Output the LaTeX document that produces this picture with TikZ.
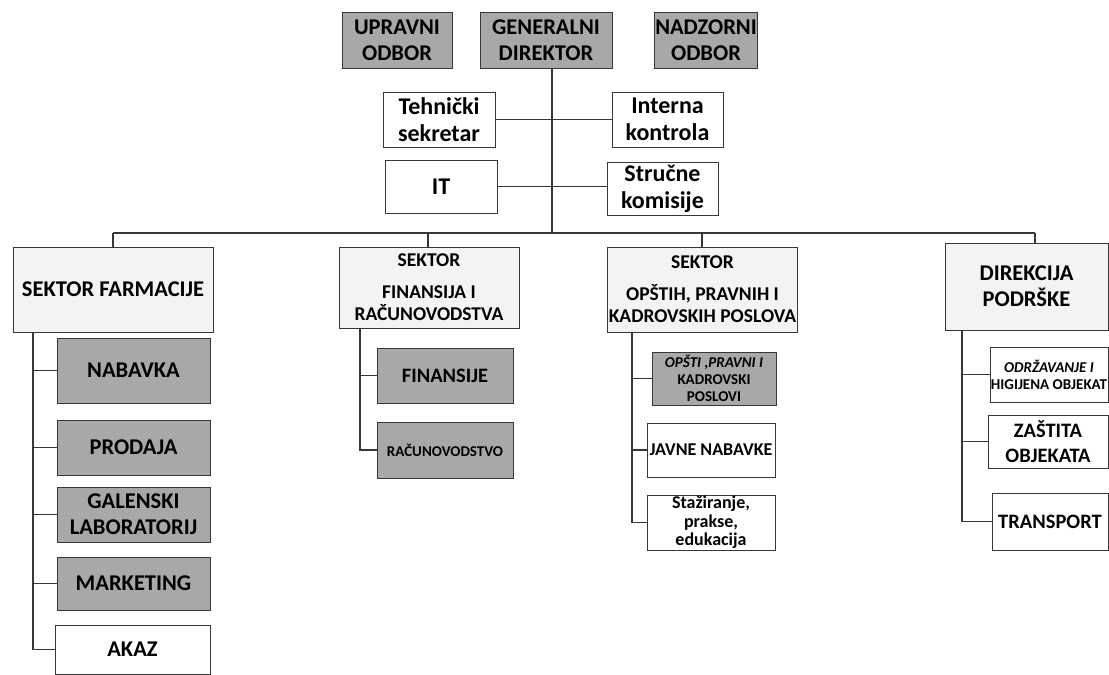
\documentclass[tikz,border=0pt]{standalone}
\usepackage{fontspec}
\setmainfont{Carlito}
\usepackage{tikz}

\definecolor{boxgray}{RGB}{168,168,168}
\definecolor{sectgray}{RGB}{243,243,243}
\definecolor{linegray}{RGB}{55,55,55}

\tikzset{
  box/.style={draw=linegray, line width=0.9pt, align=center, inner sep=1pt,
    font=\bfseries\fontsize{20.5}{25}\selectfont},
  dark/.style={box, fill=boxgray},
  light/.style={box, fill=sectgray},
  plain/.style={box, fill=white},
  conn/.style={draw=linegray, line width=1.4pt},
  large/.style={font=\bfseries\fontsize{22.5}{26}\selectfont},
  staff/.style={font=\bfseries\fontsize{24}{27}\selectfont},
  sect/.style={font=\bfseries\fontsize{19.5}{22}\selectfont},
  small/.style={font=\bfseries\fontsize{15}{17}\selectfont},
  medium/.style={font=\bfseries\fontsize{18}{18.5}\selectfont}
}

\begin{document}
\begin{tikzpicture}[x=1pt, y=-1pt]
        \useasboundingbox (0,0) rectangle (1109,675);

        \draw (397,40) node[dark, large, minimum width=110, minimum height=56] (upr) {UPRAVNI\\ODBOR};
        \draw (546,40) node[dark, large, minimum width=132, minimum height=56] (gd) {GENERALNI\\DIREKTOR};
        \draw (706,40) node[dark, large, minimum width=103, minimum height=56] (nad) {NADZORNI\\ODBOR};

        \draw (439,119.5) node[plain, staff, minimum width=112, minimum height=55] (teh) {Tehnički\\sekretar};
        \draw (667.5,119.5) node[plain, staff, minimum width=111, minimum height=55] (int) {Interna\\kontrola};
        \draw (441,186.5) node[plain, staff, minimum width=112, minimum height=53] (it) {IT};
        \draw (662.5,188.5) node[plain, staff, minimum width=111, minimum height=53] (str) {Stručne\\komisije};

        \coordinate (b1) at (113,233);
        \coordinate (b2) at (428,233);
        \coordinate (b3) at (702,233);
        \coordinate (b4) at (1035,233);

        \draw[conn] ([xshift=6pt]gd.south) -- ([xshift=6pt]gd.south |- b1);
        \draw[conn] (teh.east) -- (int.west);
        \draw[conn] (it.east) -- (it.east -| str.west);
        \draw[conn] (b1) -- (b4);

        \draw (113,289.5) node[light, large, minimum width=200, minimum height=85] (sf) {SEKTOR FARMACIJE};
        \draw (429,287.5) node[light, sect, minimum width=180, minimum height=81] (sfin) {SEKTOR\\[10pt]FINANSIJA I\\RAČUNOVODSTVA};
        \draw (702.5,289.5) node[light, sect, minimum width=177, minimum height=85] (sop) {SEKTOR\\[10pt]OPŠTIH, PRAVNIH I\\KADROVSKIH POSLOVA};
        \draw (1026.5,286.5) node[light, large, minimum width=163, minimum height=87] (dir) {DIREKCIJA\\PODRŠKE};

        \draw[conn] (b1) -- (sf.north);
        \draw[conn] (b2) -- (b2 |- sfin.north);
        \draw[conn] (b3) -- (b3 |- sop.north);
        \draw[conn] (b4) -- (b4 |- dir.north);

        \draw (133.5,370.5) node[dark, large, minimum width=153, minimum height=65] (nab) {NABAVKA};
        \draw (133.5,447.5) node[dark, large, minimum width=153, minimum height=55] (pro) {PRODAJA};
        \draw (133.5,514.5) node[dark, large, minimum width=153, minimum height=55] (gal) {GALENSKI\\LABORATORIJ};
        \draw (133.5,583.5) node[dark, large, minimum width=153, minimum height=53] (mar) {MARKETING};
        \draw (132.5,649.5) node[plain, large, minimum width=155, minimum height=49] (akaz) {AKAZ};

        \draw (445,375.5) node[dark, minimum width=136, minimum height=55] (fin) {FINANSIJE};
        \draw (445,450) node[dark, small, minimum width=136, minimum height=56] (rac) {RAČUNOVODSTVO};

        \draw (714,378.5) node[dark, small, minimum width=124, minimum height=53] (opp) {{\itshape OPŠTI ,PRAVNI I}\\KADROVSKI\\POSLOVI};
        \draw (711,450) node[plain, medium, minimum width=128, minimum height=54] (jav) {JAVNE NABAVKE};
        \draw (711,522.5) node[plain, medium, minimum width=128, minimum height=55] (sta) {Stažiranje,\\prakse,\\edukacija};

        \draw (1049,374.5) node[plain, small, minimum width=118, minimum height=55] (odr) {{\itshape ODRŽAVANJE I}\\HIGIJENA OBJEKAT};
        \draw (1048,441.5) node[plain, minimum width=120, minimum height=53] (zas) {ZAŠTITA\\OBJEKATA};
        \draw (1050,521.5) node[plain, minimum width=116, minimum height=57] (tra) {TRANSPORT};

        \coordinate (t1) at (33,332);
        \coordinate (t2) at (360,328);
        \coordinate (t3) at (632,332);
        \coordinate (t4) at (962,330);

        \foreach \k in {nab,pro,gal,mar,akaz}
          \draw[conn] (t1) |- (\k.west);
        \foreach \k in {fin,rac}
          \draw[conn] (t2) |- (\k.west);
        \foreach \k in {opp,jav,sta}
          \draw[conn] (t3) |- (\k.west);
        \foreach \k in {odr,zas,tra}
          \draw[conn] (t4) |- (\k.west);
      \end{tikzpicture}
\end{document}
